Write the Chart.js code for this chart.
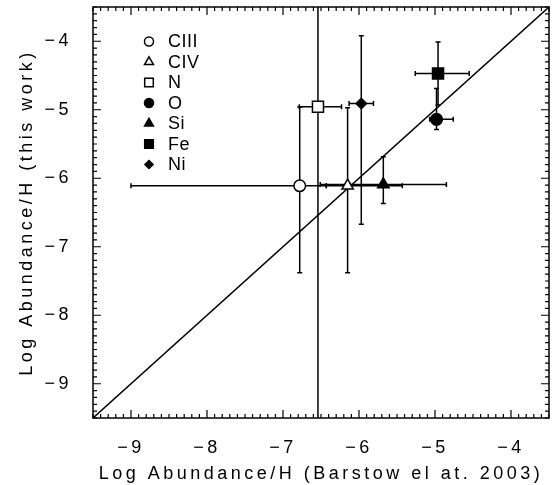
<!DOCTYPE html>
<html><head><meta charset="utf-8">
<script src="https://cdn.jsdelivr.net/npm/chart.js@4/dist/chart.umd.min.js"></script>
<style>html,body{margin:0;padding:0;background:#fff;}#wrap{width:557px;height:485px;}</style>
</head><body><div id="wrap"><canvas id="c" width="557" height="485"></canvas></div>
<script>
// ---- data ----
const elements  = ['CIII', 'CIV', 'N', 'O', 'Si', 'Fe', 'Ni'];
const barstow   = [-6.78, -6.15, -6.54, -4.98, -5.68, -4.96, -5.97];   // x
const thisWork  = [-6.11, -6.11, -4.955, -5.14, -6.09, -4.47, -4.91];  // y
const xErrLow   = [-9.00, -6.43, -6.785, -5.07, -6.51, -5.26, -6.13];
const xErrHigh  = [-6.43, -5.43, -6.23, -4.76, -4.85, -4.55, -5.81];
const yErrLow   = [-7.38, -7.38, -10.5, -5.29, -6.37, -4.93, -6.67];
const yErrHigh  = [-4.96, -4.97, -2.5, -4.69, -5.685, -4.01, -3.92];
const oneToOne  = [-9.5, -3.5];
const xTicks    = [-9, -8, -7, -6, -5, -4];
const yTicks    = [-9, -8, -7, -6, -5, -4];
const axisRange = [-9.5, -3.5];
const xTitle = 'Log Abundance/H (Barstow el at. 2003)';
const yTitle = 'Log Abundance/H (this work)';

// ---- styles ----
const FONT = '"Liberation Sans", Arial, sans-serif';
const styles = [
  {ps:'circle',   r:5.8, fill:false},
  {ps:'triangle', r:6.6, fill:false},
  {ps:'rect',     r:7.8, fill:false},
  {ps:'circle',   r:5.8, fill:true},
  {ps:'triangle', r:6.6, fill:true},
  {ps:'rect',     r:7.8, fill:true},
  {ps:'rectRot',  r:5.2, fill:true}
];
const fmt = v => (v < 0 ? '\u2212' + Math.abs(v) : String(v));

const datasets = elements.map((name, i) => ({
  type: 'scatter',
  label: name,
  data: [{x: barstow[i], y: thisWork[i]}],
  pointStyle: styles[i].ps,
  pointRadius: styles[i].r,
  pointBorderWidth: 1.5,
  borderColor: '#000',
  backgroundColor: styles[i].fill ? '#000' : '#fff',
  pointBackgroundColor: styles[i].fill ? '#000' : '#fff',
  pointBorderColor: '#000',
  order: 1
}));
datasets.push({
  type: 'line',
  label: '1:1',
  data: oneToOne.map(v => ({x: v, y: v})),
  borderColor: '#000',
  borderWidth: 1.5,
  pointRadius: 0,
  fill: false,
  order: 5
});

function drawMarker(ctx, ps, x, y, r, fill) {
  ctx.save();
  ctx.beginPath();
  if (ps === 'circle') {
    ctx.arc(x, y, r, 0, Math.PI * 2);
  } else if (ps === 'triangle') {
    for (let k = 0; k < 3; k++) {
      const a = -Math.PI / 2 + k * 2 * Math.PI / 3;
      const px = x + Math.cos(a) * r, py = y + Math.sin(a) * r;
      k ? ctx.lineTo(px, py) : ctx.moveTo(px, py);
    }
    ctx.closePath();
  } else if (ps === 'rect') {
    const s = r * Math.SQRT1_2;
    ctx.rect(x - s, y - s, 2 * s, 2 * s);
  } else if (ps === 'rectRot') {
    ctx.moveTo(x, y - r); ctx.lineTo(x + r, y); ctx.lineTo(x, y + r); ctx.lineTo(x - r, y); ctx.closePath();
  }
  ctx.fillStyle = fill ? '#000' : '#fff';
  ctx.fill();
  ctx.lineWidth = 1.5; ctx.strokeStyle = '#000';
  ctx.stroke();
  ctx.restore();
}

const framePlugin = {
  id: 'frame',
  beforeDraw(chart) {
    chart.ctx.letterSpacing = '3.5px';
  },
  beforeDatasetsDraw(chart) {
    const {ctx, chartArea: a, scales: {x, y}} = chart;
    ctx.save();
    ctx.beginPath(); ctx.rect(a.left, a.top, a.right - a.left, a.bottom - a.top); ctx.clip();
    ctx.strokeStyle = '#000'; ctx.lineWidth = 1.5;
    const cap = 2.5;
    elements.forEach((_, i) => {
      const px = x.getPixelForValue(barstow[i]), py = y.getPixelForValue(thisWork[i]);
      const xl = x.getPixelForValue(xErrLow[i]), xh = x.getPixelForValue(xErrHigh[i]);
      const yl = y.getPixelForValue(yErrLow[i]), yh = y.getPixelForValue(yErrHigh[i]);
      ctx.beginPath();
      ctx.moveTo(xl, py); ctx.lineTo(xh, py);
      ctx.moveTo(xl, py - cap); ctx.lineTo(xl, py + cap);
      ctx.moveTo(xh, py - cap); ctx.lineTo(xh, py + cap);
      ctx.moveTo(px, yl); ctx.lineTo(px, yh);
      ctx.moveTo(px - cap, yl); ctx.lineTo(px + cap, yl);
      ctx.moveTo(px - cap, yh); ctx.lineTo(px + cap, yh);
      ctx.stroke();
    });
    ctx.restore();
  },
  afterDraw(chart) {
    const {ctx, chartArea: a, scales: {x, y}} = chart;
    ctx.save();
    ctx.strokeStyle = '#000'; ctx.lineWidth = 1.5;
    ctx.strokeRect(a.left, a.top, a.right - a.left, a.bottom - a.top);
    ctx.lineWidth = 1.2;
    ctx.beginPath();
    for (let k = -95; k <= -35; k++) {
      const v = k / 10;
      const len = (k % 10 === 0) ? 8 : 4;
      const px = x.getPixelForValue(v), py = y.getPixelForValue(v);
      ctx.moveTo(px, a.bottom); ctx.lineTo(px, a.bottom - len);
      ctx.moveTo(px, a.top); ctx.lineTo(px, a.top + len);
      ctx.moveTo(a.left, py); ctx.lineTo(a.left + len, py);
      ctx.moveTo(a.right, py); ctx.lineTo(a.right - len, py);
    }
    ctx.stroke();
    // legend
    ctx.letterSpacing = '0.5px';
    ctx.font = '18px ' + FONT;
    ctx.fillStyle = '#000';
    ctx.textBaseline = 'middle';
    ctx.textAlign = 'left';
    elements.forEach((name, i) => {
      const ly = 41.5 + i * 20.5;
      const st = styles[i];
      drawMarker(ctx, st.ps, 149, ly, st.r * 0.78, st.fill);
      ctx.fillText(name, 168, ly + 1);
    });
    ctx.restore();
  }
};

new Chart(document.getElementById('c'), {
  data: {datasets},
  options: {
    responsive: false,
    devicePixelRatio: 1,
    animation: false,
    layout: {autoPadding: false, padding: {top: 7, right: 8, left: 0, bottom: 0}},
    plugins: {legend: {display: false}, tooltip: {enabled: false}},
    scales: {
      x: {
        type: 'linear', position: 'bottom', min: axisRange[0], max: axisRange[1],
        afterBuildTicks: s => { s.ticks = xTicks.map(v => ({value: v})); },
        afterFit: s => { s.height = 67; s.paddingLeft = 0; s.paddingRight = 0; },
        grid: {display: false, drawTicks: false, tickLength: 0},
        border: {display: false},
        ticks: {color: '#000', font: {family: FONT, size: 18}, padding: 19, maxRotation: 0, autoSkip: false, callback: v => fmt(v)},
        title: {display: true, text: xTitle, color: '#000', font: {family: FONT, size: 18}, padding: {top: 0, bottom: 0}}
      },
      y: {
        type: 'linear', position: 'left', min: axisRange[0], max: axisRange[1],
        afterBuildTicks: s => { s.ticks = yTicks.map(v => ({value: v})); },
        afterFit: s => { s.width = 93; s.paddingTop = 0; s.paddingBottom = 0; },
        grid: {display: false, drawTicks: false, tickLength: 0},
        border: {display: false},
        ticks: {color: '#000', font: {family: FONT, size: 18}, padding: 21, autoSkip: false, callback: v => fmt(v)},
        title: {display: true, text: yTitle, color: '#000', font: {family: FONT, size: 18}, padding: {top: 16, bottom: 0}}
      }
    }
  },
  plugins: [framePlugin]
});
</script></body></html>
